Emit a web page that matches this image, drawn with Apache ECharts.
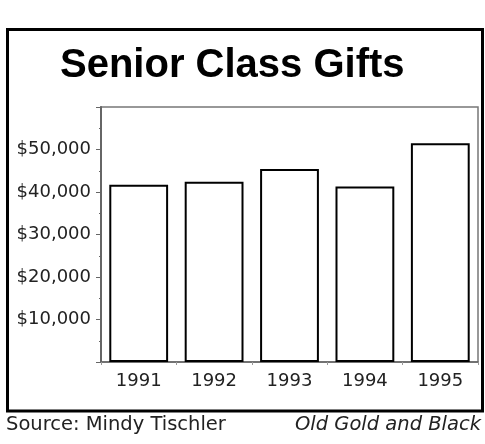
<!DOCTYPE html>
<html>
<head>
<meta charset="utf-8">
<script src="https://cdn.jsdelivr.net/npm/echarts@6/dist/echarts.min.js"></script>
<style>
  html, body { margin: 0; padding: 0; background: #fff; }
  #main { width: 485px; height: 444px; }
</style>
</head>
<body>
<div id="main"></div>
<script>
// chart data
const years = ['1991', '1992', '1993', '1994', '1995'];
const gifts = [41700, 42400, 45400, 41300, 51500];
const yTickLabels = ['', '$10,000', '$20,000', '$30,000', '$40,000', '$50,000', ''];

let myChart = echarts.init(document.getElementById('main'));

myChart.setOption({
  animation: false,
  backgroundColor: '#fff',
  title: {
    text: 'Senior Class Gifts',
    left: 55,
    top: 41,
    textStyle: {
      fontFamily: 'Liberation Sans',
      fontWeight: 'bold',
      fontSize: 40,
      color: '#000'
    }
  },
  grid: {
    left: 101,
    top: 107,
    right: 7,
    bottom: 82,
    show: true,
    borderColor: '#777',
    borderWidth: 1.5
  },
  xAxis: {
    type: 'category',
    data: years,
    axisLine: { lineStyle: { color: '#666', width: 1.5 } },
    axisTick: { show: true, length: 3, lineStyle: { color: '#999' } },
    axisLabel: {
      margin: 10,
      fontFamily: 'DejaVu Sans',
      fontSize: 18,
      color: '#222'
    }
  },
  yAxis: {
    type: 'value',
    min: 0,
    max: 60000,
    interval: 10000,
    splitLine: { show: false },
    axisLine: { show: true, lineStyle: { color: '#666', width: 2 } },
    axisTick: { show: true, length: 5, lineStyle: { color: '#666' } },
    minorTick: { show: true, splitNumber: 2, length: 2, lineStyle: { color: '#666' } },
    axisLabel: {
      margin: 10,
      fontFamily: 'DejaVu Sans',
      fontSize: 18,
      color: '#222',
      formatter: v => yTickLabels[Math.round(v / 10000)]
    }
  },
  series: [{
    type: 'bar',
    data: gifts,
    barCategoryGap: '22%',
    itemStyle: { color: '#fff', borderColor: '#000', borderWidth: 2 }
  }],
  graphic: [
    {
      // outer frame
      type: 'rect',
      shape: { x: 7.5, y: 29.5, width: 475, height: 381.5 },
      style: { fill: null, stroke: '#000', lineWidth: 3 },
      silent: true
    },
    {
      type: 'text',
      left: 6,
      top: 415,
      style: { text: 'Source: Mindy Tischler', font: '19.5px "DejaVu Sans"', fill: '#222' }
    },
    {
      type: 'text',
      right: 4,
      top: 415,
      style: { text: 'Old Gold and Black', font: 'italic 19.5px "DejaVu Sans"', fill: '#222' }
    }
  ]
});
</script>
</body>
</html>
